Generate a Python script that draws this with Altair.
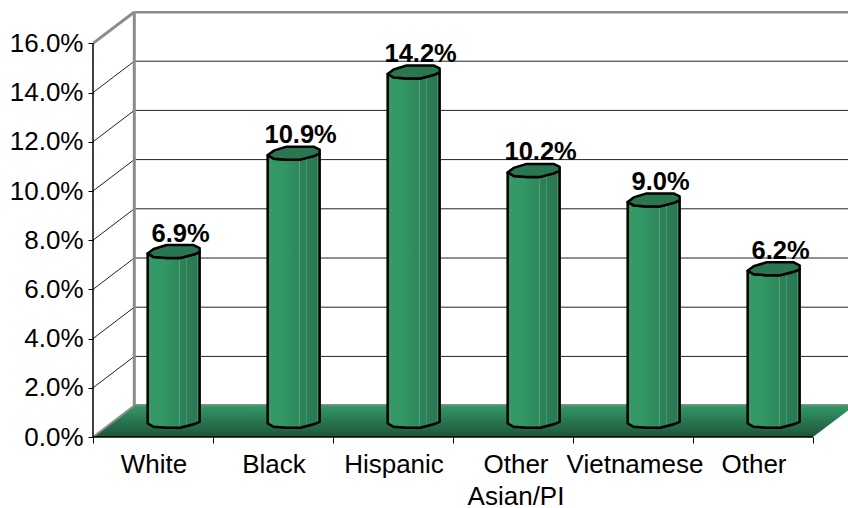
import altair as alt
import pandas as pd

categories = ["White", "Black", "Hispanic", "Other\nAsian/PI", "Vietnamese", "Other"]
rates = [6.9, 10.9, 14.2, 10.2, 9.0, 6.2]
y_ticks = [0, 2, 4, 6, 8, 10, 12, 14, 16]
x_ticks = [0, 1, 2, 3, 4, 5, 6]
# Small horizontal nudges (px) for the category captions.
name_nudge = [1, 1, 1, 3, 2, 1]

# Plot geometry: one category slot is 120 px wide, one percent is 24.6 px tall.
SLOT_PX = 120.0
PCT_PX = 24.6
WIDTH = 755
HEIGHT = 426
X_MAX = WIDTH / SLOT_PX
Y_MAX = HEIGHT / PCT_PX
# Oblique projection of the chart's depth axis.
DEPTH_X = 41.3 / SLOT_PX
DEPTH_Y = 31.4 / PCT_PX
BAR_DEPTH = 0.5

# Octagonal column section as (x, upper, lower) pixel offsets from its centre.
SECTION = [(-26, 2, 2), (-20, -2.5, 5.5), (-7, -6.5, 6.5), (6.5, -6.5, 6.5), (20, -6.5, 3), (26, -3.5, 0.5)]

WALL_GREY = "#8c8c8c"
FONT = "Liberation Sans"
FONT_SIZE = 26

xs = alt.Scale(domain=[0, X_MAX], nice=False, zero=False)
ys = alt.Scale(domain=[0, Y_MAX], nice=False, zero=False)
x_axis = alt.Axis(
    values=x_ticks, labels=False, title=None, grid=False, domain=False,
    tickColor="black", tickSize=6, tickWidth=1,
)
y_axis = alt.Axis(
    values=y_ticks, labelExpr="format(datum.value, '.1f') + '%'", title=None, grid=False, domain=False,
    tickColor="black", tickSize=5, tickWidth=1, labelFont=FONT, labelFontSize=FONT_SIZE,
    labelColor="black", labelPadding=5,
)
X = alt.X("x:Q", scale=xs, axis=x_axis)
Y = alt.Y("y:Q", scale=ys, axis=y_axis)
X2 = alt.X2("x2:Q")
Y2 = alt.Y2("y2:Q")

rows_body, rows_cap, rows_label, rows_name = [], [], [], []
for i, (name, v) in enumerate(zip(categories, rates)):
    cx = i + 0.5 + BAR_DEPTH * DEPTH_X
    base = BAR_DEPTH * DEPTH_Y
    for dx, up, lo in SECTION:
        rows_body.append(dict(bar=i, x=cx + dx / SLOT_PX, y=base + v - lo / PCT_PX, y2=base - lo / PCT_PX))
        rows_cap.append(dict(bar=i, x=cx + dx / SLOT_PX, y=base + v - up / PCT_PX, y2=base + v - lo / PCT_PX))
    rows_label.append(dict(x=cx + 7 / SLOT_PX, y=base + v, t=f"{v:.1f}%"))
    for line, part in enumerate(name.split("\n")):
        rows_name.append(dict(x=i + 0.5 + name_nudge[i] / SLOT_PX, y=0, line=line, t=part))

body = pd.DataFrame(rows_body)
cap = pd.DataFrame(rows_cap)
labels = pd.DataFrame(rows_label)
names = pd.DataFrame(rows_name)

grid = pd.DataFrame([dict(x=DEPTH_X, x2=X_MAX, y=t + DEPTH_Y, y2=t + DEPTH_Y) for t in y_ticks[1:-1]])
side = pd.DataFrame([dict(x=0, x2=DEPTH_X, y=t, y2=t + DEPTH_Y) for t in y_ticks[1:-1]])
top_edges = pd.DataFrame([
    dict(x=0, x2=DEPTH_X, y=16, y2=16 + DEPTH_Y),
    dict(x=DEPTH_X, x2=X_MAX, y=16 + DEPTH_Y, y2=16 + DEPTH_Y),
    dict(x=DEPTH_X, x2=DEPTH_X, y=DEPTH_Y, y2=16 + DEPTH_Y),
])
floor = pd.DataFrame([
    dict(x=0, y=0, y2=0),
    dict(x=DEPTH_X, y=DEPTH_Y, y2=0),
    dict(x=6, y=DEPTH_Y, y2=0),
    dict(x=6 + DEPTH_X, y=DEPTH_Y, y2=DEPTH_Y),
])
floor_back = pd.DataFrame([dict(x=DEPTH_X, x2=X_MAX, y=DEPTH_Y, y2=DEPTH_Y)])
floor_left = pd.DataFrame([dict(x=0, x2=DEPTH_X, y=0, y2=DEPTH_Y)])
front_axis = pd.DataFrame([dict(x=0, x2=0, y=0, y2=16)])
front_base = pd.DataFrame([dict(x=0, x2=6, y=0, y2=0)])

body_fill = alt.Gradient(
    gradient="linear", x1=0, x2=1, y1=0, y2=0,
    stops=[
        alt.GradientStop(offset=0.0, color="#2c8a5a"),
        alt.GradientStop(offset=0.05, color="#309260"),
        alt.GradientStop(offset=0.06, color="#4aa57a"),
        alt.GradientStop(offset=0.075, color="#329865"),
        alt.GradientStop(offset=0.3, color="#329764"),
        alt.GradientStop(offset=0.6, color="#2d875b"),
        alt.GradientStop(offset=0.615, color="#5aa582"),
        alt.GradientStop(offset=0.63, color="#2c8258"),
        alt.GradientStop(offset=0.74, color="#2c8057"),
        alt.GradientStop(offset=0.75, color="#4f9c78"),
        alt.GradientStop(offset=0.765, color="#2b7e55"),
        alt.GradientStop(offset=0.94, color="#2a7850"),
        alt.GradientStop(offset=0.955, color="#549c79"),
        alt.GradientStop(offset=0.97, color="#29744e"),
        alt.GradientStop(offset=1.0, color="#29744e"),
    ],
)
floor_fill = alt.Gradient(
    gradient="linear", x1=0, x2=0, y1=0, y2=1,
    stops=[
        alt.GradientStop(offset=0.0, color="#339966"),
        alt.GradientStop(offset=1.0, color="#1d5439"),
    ],
)


def segs(df, **style):
    return alt.Chart(df).mark_rule(**style).encode(x=X, x2=X2, y=Y, y2=Y2)


def names_line(line, dy):
    return alt.Chart(names[names["line"] == line]).mark_text(
        font=FONT, fontSize=FONT_SIZE, color="black", baseline="alphabetic", dy=dy
    ).encode(x=X, y=Y, text="t:N")


chart = alt.layer(
    segs(grid, color="#222222", strokeWidth=1, clip=True),
    segs(side, color="#222222", strokeWidth=1),
    segs(top_edges, color=WALL_GREY, strokeWidth=3, clip=True),
    segs(floor_back, color=WALL_GREY, strokeWidth=3, clip=True),
    alt.Chart(floor).mark_area(color=floor_fill, clip=True, orient="vertical").encode(x=X, y=Y, y2=Y2),
    segs(floor_left, color=WALL_GREY, strokeWidth=2),
    segs(front_axis, color="black", strokeWidth=1.5),
    segs(front_base, color="black", strokeWidth=1.5),
    alt.Chart(body).mark_area(color=body_fill, stroke="black", strokeWidth=2.5,
                              strokeJoin="round", orient="vertical").encode(
        x=X, y=Y, y2=Y2, detail="bar:N"),
    alt.Chart(cap).mark_area(color="#2a7650", stroke="black", strokeWidth=2.5,
                             strokeJoin="round", orient="vertical").encode(
        x=X, y=Y, y2=Y2, detail="bar:N"),
    alt.Chart(labels).mark_text(font=FONT, fontSize=25.5, fontWeight="bold", color="black",
                                baseline="alphabetic", dy=-10).encode(x=X, y=Y, text="t:N"),
    names_line(0, 36),
    names_line(1, 68),
).properties(
    width=WIDTH,
    height=HEIGHT,
    background="white",
    padding={"left": 93, "top": 11, "right": 0, "bottom": 71},
    autosize=alt.AutoSizeParams(type="none"),
).configure_view(stroke=None)

chart.save("out.html", embed_options={"renderer": "svg", "actions": False})
